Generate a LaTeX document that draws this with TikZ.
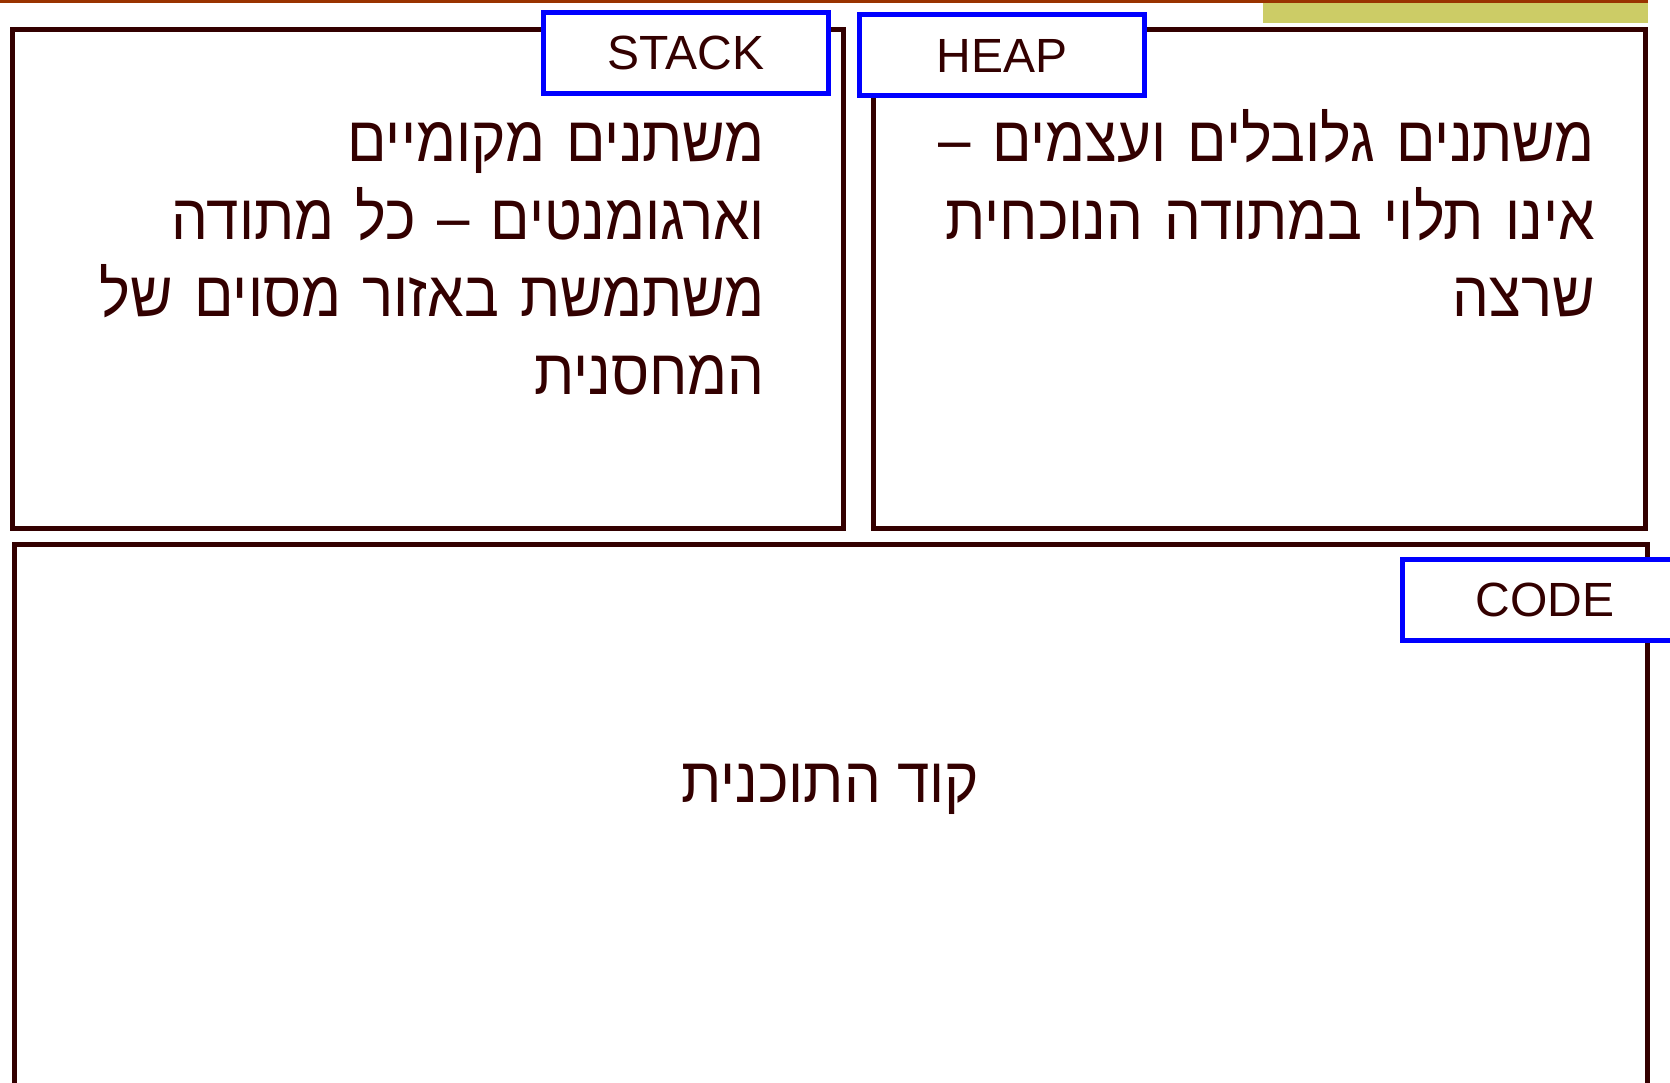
\documentclass[tikz,border=0pt]{standalone}
\usepackage{fontspec}
\setmainfont{Liberation Sans}
\newfontfamily\hebfont[Script=Hebrew, FakeStretch=0.91]{Liberation Sans}
\TeXXeTstate=1
\usetikzlibrary{positioning}
\definecolor{darkbrown}{HTML}{330000}
\definecolor{rust}{HTML}{993300}
\definecolor{olivebar}{HTML}{CCCC66}
\definecolor{tagblue}{HTML}{0000FF}
\tikzset{
    region/.style={draw=darkbrown, line width=5pt},
    tag/.style={draw=tagblue, fill=white, line width=5pt, minimum width=285pt, minimum height=81pt,
        inner sep=0pt, text=darkbrown, font=\fontsize{48}{56}\selectfont},
    hebtext/.style={inner sep=0pt, text=darkbrown, align=right, text width=760pt,
        font=\hebfont\fontsize{64}{77.5}\selectfont}
}

\begin{document}
\begin{tikzpicture}[x=1pt, y=-1pt]
    \useasboundingbox (0,0) rectangle (1670,1083);
    \draw[rust, line width=3pt] (0,1.5) -- (1648,1.5);
    \fill[olivebar] (1263,3) rectangle (1648,23);
    \draw[region] (12,29.5) rectangle (843,528.5);
    \draw[region] (873,29.5) rectangle (1645,528.5);
    \draw[region] (14.5,1095) -- (14.5,544) -- (1647,544) -- (1647,1095);
    \node[tag] (stacktag) at (686,53) {STACK};
    \node[tag] (heaptag) at (1002,55.5) {HEAP};
    \node[tag] (codetag) at (1545,600) {CODE};
    \node[hebtext, anchor=base east] (stacktext) at (765,162)
        {\beginR משתנים מקומיים\endR\\
         \beginR וארגומנטים – כל מתודה\endR\\
         \beginR משתמשת באזור מסוים של\endR\\
         \beginR המחסנית\endR};
    \node[hebtext, anchor=base east] (heaptext) at (1595,162)
        {\beginR משתנים גלובלים ועצמים –\endR\\
         \beginR אינו תלוי במתודה הנוכחית\endR\\
         \beginR שרצה\endR};
    \node[inner sep=0pt, text=darkbrown, font=\hebfont\fontsize{64}{77.5}\selectfont, anchor=base]
        (codetext) at (830,802) {\beginR קוד התוכנית\endR};
\end{tikzpicture}
\end{document}
